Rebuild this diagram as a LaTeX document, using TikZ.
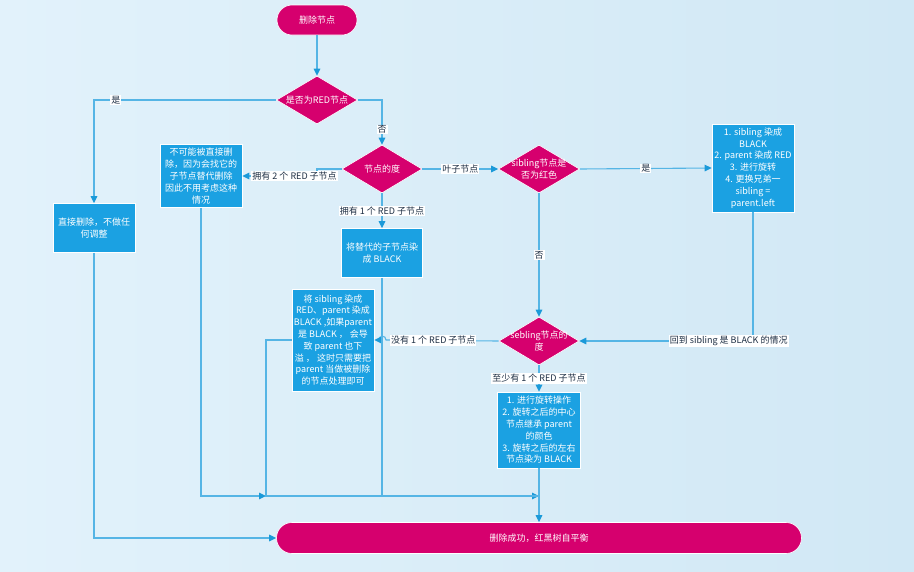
\documentclass[tikz,border=0pt]{standalone}
\usepackage{fontspec}
\setmainfont{Noto Sans CJK SC}
\usetikzlibrary{arrows.meta,shapes.geometric,positioning}
\definecolor{rbmag}{HTML}{D6006E}
\definecolor{rbblue}{HTML}{1BA1E2}
\definecolor{rbline}{HTML}{55B5E5}
\definecolor{rbtip}{HTML}{1B9AD9}
\definecolor{rbtext}{HTML}{1E2F44}
\definecolor{bgleft}{HTML}{E2F2FB}
\definecolor{bgright}{HTML}{D1E8F5}
\tikzset{
  terminal/.style={rectangle, rounded corners=15pt, fill=rbmag, draw=white, line width=0.6pt, text=white, minimum width=80pt, minimum height=30pt},
  decision/.style={diamond, fill=rbmag, draw=white, line width=0.6pt, minimum width=81pt, minimum height=48pt, inner sep=0pt},
  dtext/.style={text=white, align=center, inner sep=0pt},
  process/.style={rectangle, fill=rbblue, draw=white, line width=0.6pt, text=white, align=center, inner sep=0.5pt},
  flow/.style={draw=rbline, line width=1.1pt, -{Triangle[length=7pt,width=6.5pt,color=rbtip]}},
  plain/.style={draw=rbline, line width=1.1pt},
  elabel/.style={fill=white, text=rbtext, inner sep=1pt}
}

\begin{document}
\begin{tikzpicture}[x=1pt,y=-1pt,every node/.style={font=\fontsize{9}{11.8}\selectfont}]
  \fill[left color=bgleft,right color=bgright] (0,0) rectangle (914,571);
  \useasboundingbox (0,0) rectangle (914,571);

  \node[terminal] (start) at (317,20) {删除节点};
  \node[decision,label={[dtext]center:是否为RED节点}] (isred) at (317,100) {};
  \node[process,minimum width=82pt,minimum height=49pt] (direct) at (94,228) {直接删除，不做任\\何调整};
  \node[process,minimum width=82pt,minimum height=63pt] (nocase) at (201,176) {不可能被直接删\\除，因为会找它的\\子节点替代删除\\因此不用考虑这种\\情况};
  \node[decision,minimum width=80pt,label={[dtext]center:节点的度}] (degree) at (382,169) {};
  \node[process,minimum width=81pt,minimum height=49pt] (recolor) at (382,253) {将替代的子节点染\\成 BLACK};
  \node[decision,label={[dtext]center:{sibling节点是\\否为红色}}] (sibred) at (539,169) {};
  \node[process,minimum width=82pt,minimum height=88pt] (case1) at (753,168) {1. sibling 染成\\BLACK\\2. parent 染成 RED\\3. 进行旋转\\4. 更换兄弟一\\sibling =\\parent.left};
  \node[decision,minimum width=80pt,label={[dtext]center:{sebling节点的\\度}}] (sebdeg) at (539,341) {};
  \node[process,minimum width=82pt,minimum height=102pt] (blackcase) at (333,340) {将 sibling 染成\\RED、parent 染成\\BLACK ,如果parent\\是 BLACK ， 会导\\致 parent 也下\\溢 ， 这时只需要把\\parent 当做被删除\\的节点处理即可};
  \node[process,minimum width=83pt,minimum height=76pt] (rotate) at (539,430) {1. 进行旋转操作\\2. 旋转之后的中心\\节点继承 parent\\的颜色\\3. 旋转之后的左右\\节点染为 BLACK};
  \node[terminal,rounded corners=15.5pt,minimum width=525pt,minimum height=31pt] (finish) at (539,538) {删除成功，红黑树自平衡};

  \coordinate (bend2) at (317,169);
  \coordinate (hopin) at (386,340);
  \coordinate (hopout) at (379,340);
  \coordinate (j1) at (266,496);
  \coordinate (merge) at (539,496);

  \draw[flow] (start) -- (isred);
  \draw[flow] (isred.west) -| node[elabel,pos=0.44]{是} (direct.north);
  \draw[flow] (isred.east) -| node[elabel,pos=0.83]{否} (degree.north);
  \draw[flow] (degree.west) -- (bend2) |- node[elabel,pos=0.65]{拥有 2 个 RED 子节点} (nocase.east);
  \draw[flow] (degree.east) -- node[elabel]{叶子节点} (sibred.west);
  \draw[flow] (degree.south) -- node[elabel]{拥有 1 个 RED 子节点} (recolor.north);
  \draw[flow] (sibred.east) -- node[elabel]{是} (case1.west);
  \draw[flow] (sibred.south) -- node[elabel]{否} (sebdeg.north);
  \draw[flow] (case1.south) |- node[elabel,pos=0.57]{回到 sibling 是 BLACK 的情况} (sebdeg.east);
  \draw[flow] (sebdeg.south) -- node[elabel]{至少有 1 个 RED 子节点} (rotate.north);
  \draw[flow] (sebdeg.west) -- node[elabel,pos=0.58]{没有 1 个 RED 子节点} (hopin) .. controls +(0,-5) and +(0,-5) .. (hopout) -- (blackcase.east);

  \draw[flow] (direct.south) |- (finish.west);
  \draw[flow] (nocase.south) |- (j1);
  \draw[flow] (blackcase.west) -| (j1) -- (merge);
  \draw[plain] (recolor.south) |- (merge);
  \draw[flow] (rotate.south) -- (finish.north);
\end{tikzpicture}
\end{document}
